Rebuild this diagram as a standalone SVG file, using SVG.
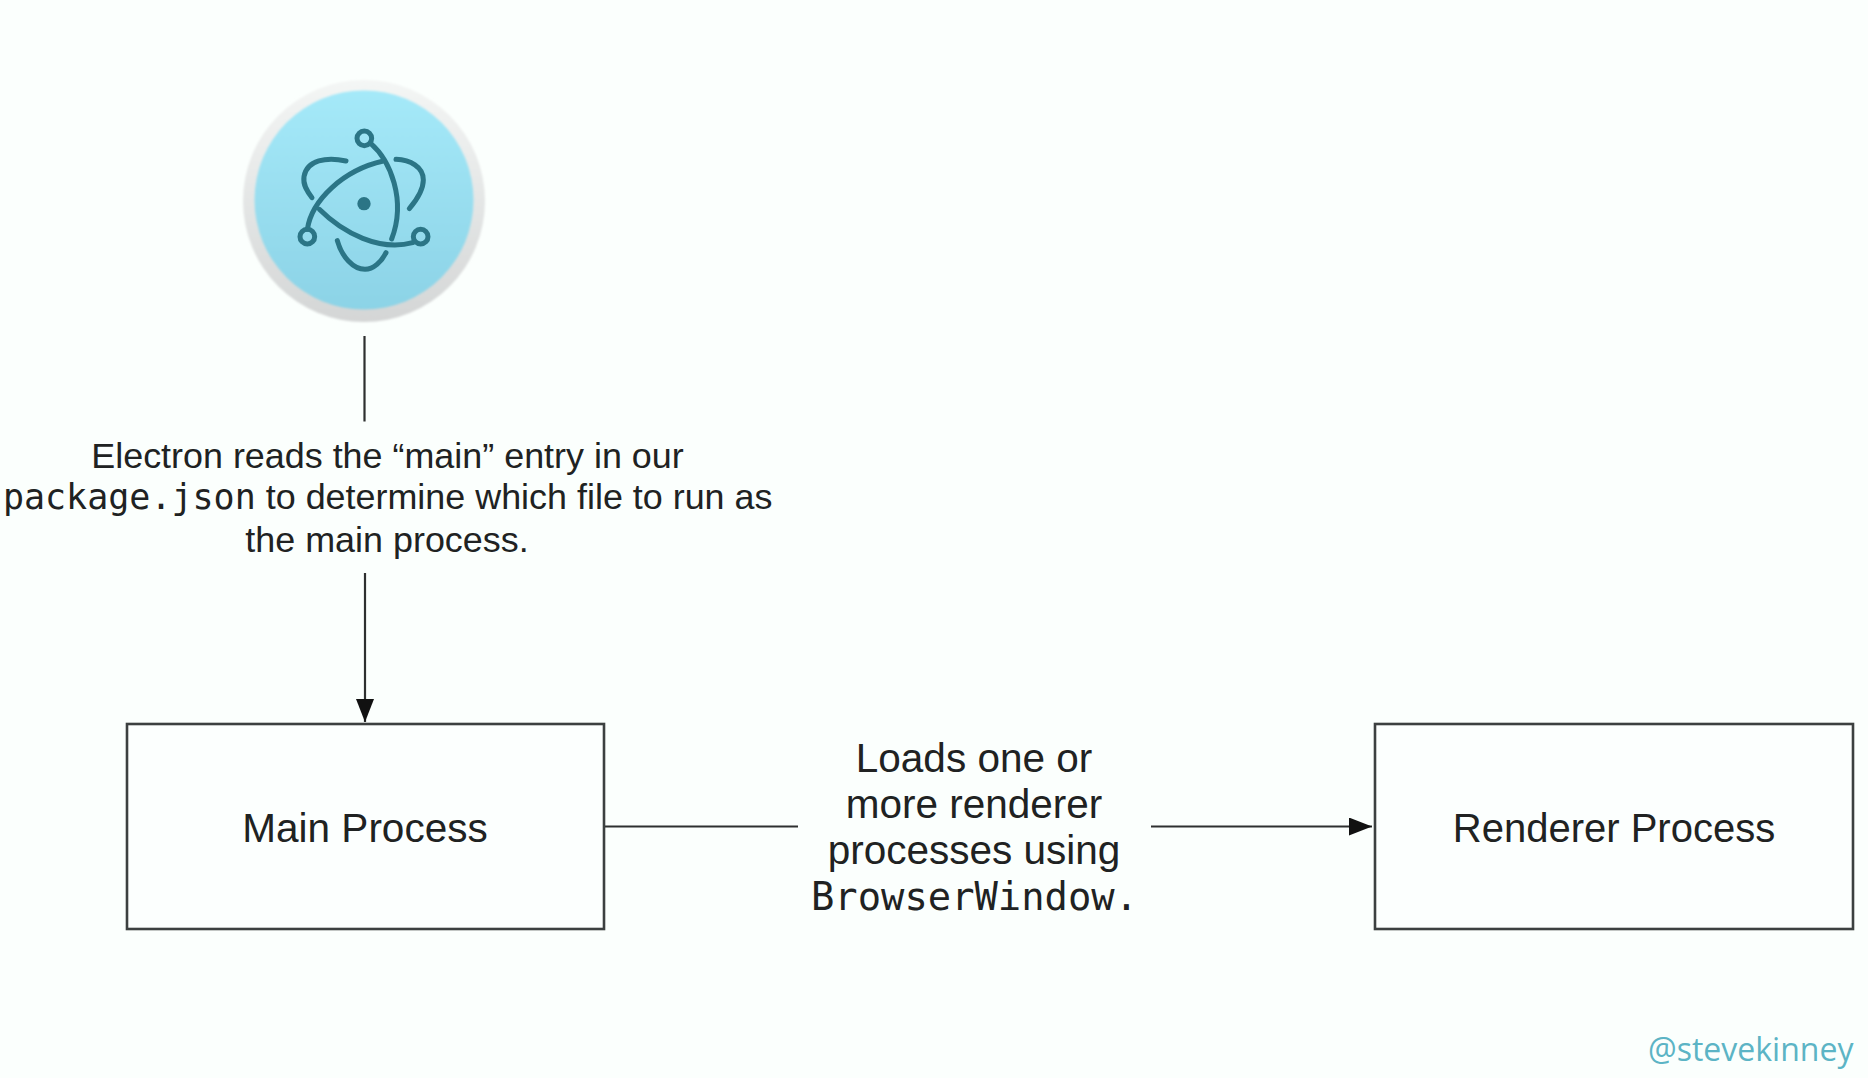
<svg xmlns="http://www.w3.org/2000/svg" width="1868" height="1078" viewBox="0 0 1868 1078">
<style>
.bg{fill:#fbfffd}
.box{fill:#fcfffe;stroke:#3c4040;stroke-width:2.6}
.conn{fill:none;stroke:#2e3030;stroke-width:2.2}
.t{font-family:"Liberation Sans",Arial,sans-serif;fill:#202222;text-anchor:middle}
.m{font-family:"DejaVu Sans Mono","Liberation Mono",monospace}
.s{font-size:35.9px}
.ms{font-size:35px}
.l{font-size:40.5px}
.lr{font-size:40px}
.ml{font-size:38.8px}
.atom{fill:none;stroke:#2b7586;stroke-width:15;stroke-linecap:round}
.handle{font-family:"Open Sans","Noto Sans",sans-serif;font-size:32px;fill:#5cb4c5}
</style>
<defs>
<linearGradient id="disc" x1="0" y1="0" x2="0" y2="1"><stop offset="0" stop-color="#a5e9f9"/><stop offset="1" stop-color="#8cd3e6"/></linearGradient>
<linearGradient id="rim" x1="0" y1="0" x2="0" y2="1"><stop offset="0" stop-color="#f4f6f5"/><stop offset="1" stop-color="#d4d6d6"/></linearGradient>
<filter id="soft" x="-5%" y="-5%" width="110%" height="110%"><feGaussianBlur stdDeviation="1"/></filter>
<marker id="arrow" markerUnits="userSpaceOnUse" markerWidth="24" markerHeight="18" refX="23" refY="9" orient="auto"><path d="M0 0L23 9L0 18Z" fill="#111"/></marker>
</defs>
<rect class="bg" width="1868" height="1078"/>
<g id="connectors">
<path class="conn" d="M364.500 336V421.500"/>
<path class="conn" d="M365 573V722" marker-end="url(#arrow)"/>
<path class="conn" d="M604 826.500H798"/>
<path class="conn" d="M1151 826.500H1372" marker-end="url(#arrow)"/>
</g>
<g id="electron-icon">
<circle cx="364" cy="201" r="121" fill="url(#rim)" filter="url(#soft)"/>
<circle cx="364" cy="200" r="109.500" fill="url(#disc)" filter="url(#soft)"/>
<g transform="translate(220 60) scale(.33333)">
<circle class="atom" cx="433" cy="235" r="22"/>
<circle class="atom" cx="262" cy="530" r="22"/>
<circle class="atom" cx="602" cy="530" r="22"/>
<circle cx="432" cy="431" r="20" fill="#2b7586"/>
<path class="atom" d="M452 250C510 300 560 420 515 537"/>
<path class="atom" d="M262 508C275 420 370 330 490 303"/>
<path class="atom" d="M578 548C480 575 370 520 298 448"/>
<path class="atom" d="M378 303C320 290 260 300 252 350C248 375 262 395 276 413"/>
<path class="atom" d="M528 298C570 300 610 320 610 360C610 390 590 420 568 446"/>
<path class="atom" d="M352 542C365 590 400 628 435 628C460 628 485 605 498 578"/>
</g>
</g>
<g id="electron-label">
<text class="t s" x="387.500" y="468">Electron reads the “main” entry in our</text>
<text class="t s" x="387.700" y="508.500"><tspan class="m ms">package.json</tspan> to determine which file to run as</text>
<text class="t s" x="387" y="552">the main process.</text>
</g>
<g id="main-process">
<rect class="box" x="127" y="724" width="477" height="205"/>
<text class="t l" x="365" y="841.500">Main Process</text>
</g>
<g id="loads-label">
<text class="t l" x="974" y="771.500">Loads one or</text>
<text class="t l" x="974" y="817.500">more renderer</text>
<text class="t l" x="974" y="863.500">processes using</text>
<text class="t m ml" x="974.500" y="910">BrowserWindow.</text>
</g>
<g id="renderer-process">
<rect class="box" x="1375" y="724" width="478" height="205"/>
<text class="t lr" x="1614" y="841.500">Renderer Process</text>
</g>
<text id="handle" class="handle" x="1648" y="1061">@stevekinney</text>
</svg>
